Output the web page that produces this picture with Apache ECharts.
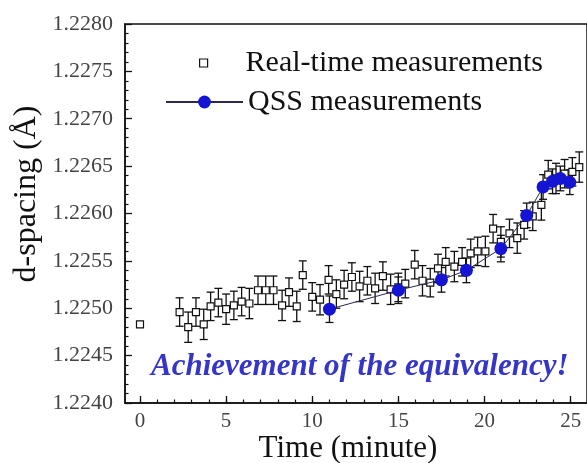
<!DOCTYPE html>
<html>
<head>
<meta charset="utf-8">
<script src="https://cdn.jsdelivr.net/npm/echarts@6/dist/echarts.min.js"></script>
<style>
html, body { margin: 0; padding: 0; background: #fff; }
#main { width: 587px; height: 463px; }
</style>
</head>
<body>
<div id="main"></div>
<script>
// real-time measurements (minute, d-spacing, error)
var rtTime = [0, 2.3, 2.8, 3.25, 3.7, 4.1, 4.55, 5.0, 5.45, 5.9, 6.35, 6.85, 7.3, 7.75, 8.25, 8.65, 9.1, 9.45,
  10.0, 10.45, 10.95, 11.4, 11.85, 12.3, 12.75, 13.2, 13.65, 14.1, 14.55, 15.0, 15.4, 15.95, 16.4, 16.85,
  17.3, 17.75, 18.25, 18.7, 19.2, 19.6, 20.05, 20.5, 20.95, 21.45, 21.9, 22.3, 22.8, 23.3, 23.7, 24.15,
  24.65, 25.1, 25.5];
var rtValue = [1.22483, 1.22496, 1.22480, 1.22496, 1.22483, 1.22502, 1.22506, 1.22499, 1.22503, 1.22507,
  1.22505, 1.22519, 1.22519, 1.22519, 1.22503, 1.22517, 1.22502, 1.22535, 1.22512, 1.22509, 1.22530,
  1.22515, 1.22525, 1.22533, 1.22523, 1.22529, 1.22521, 1.22534, 1.22520, 1.22522, 1.22526, 1.22546,
  1.22529, 1.22527, 1.22542, 1.22549, 1.22544, 1.22549, 1.22558, 1.22560, 1.22560, 1.22584, 1.22570,
  1.22579, 1.22574, 1.22588, 1.22597, 1.22609, 1.22641, 1.22637, 1.22642, 1.22644, 1.22649];
var rtErr = [0, 0.00015, 0.00016, 0.00015, 0.00016, 0.00015, 0.00015, 0.00016, 0.00015, 0.00015,
  0.00016, 0.00015, 0.00015, 0.00015, 0.00016, 0.00015, 0.00016, 0.00015, 0.00015, 0.00016, 0.00015,
  0.00015, 0.00015, 0.00015, 0.00016, 0.00015, 0.00016, 0.00015, 0.00016, 0.00015, 0.00015, 0.00015,
  0.00016, 0.00015, 0.00015, 0.00015, 0.00016, 0.00015, 0.00015, 0.00015, 0.00016, 0.00015, 0.00016,
  0.00015, 0.00016, 0.00015, 0.00015, 0.00016, 0.00015, 0.00016, 0.00015, 0.00015, 0.00016];

// QSS measurements
var qssTime = [11.0, 15.0, 17.5, 18.95, 20.95, 22.45, 23.4, 23.95, 24.4, 24.95];
var qssValue = [1.22499, 1.22519, 1.22530, 1.22540, 1.22563, 1.22598, 1.22628, 1.22634, 1.22637, 1.22633];
var qssErr = [0.00014, 0.00014, 0.00013, 0.00013, 0.00014, 0.00013, 0.00013, 0.00013, 0.00013, 0.00013];

var xMajor = [0, 5, 10, 15, 20, 25];
var xMinor = [0, 1, 2, 3, 4, 5, 6, 7, 8, 9, 10, 11, 12, 13, 14, 15, 16, 17, 18, 19, 20, 21, 22, 23, 24, 25];

var serif = '"Liberation Serif", "DejaVu Serif", serif';

var rtPoints = [], rtBars = [], qssPoints = [], qssBars = [];
for (var i = 0; i < rtTime.length; i++) {
  rtPoints.push([rtTime[i], rtValue[i]]);
  if (rtErr[i] > 0) rtBars.push([rtTime[i], rtValue[i] - rtErr[i], rtValue[i] + rtErr[i]]);
}
for (var j = 0; j < qssTime.length; j++) {
  qssPoints.push([qssTime[j], qssValue[j]]);
  qssBars.push([qssTime[j], qssValue[j] - qssErr[j], qssValue[j] + qssErr[j]]);
}

// error bar with caps
function renderErr(params, api) {
  var t = api.value(0);
  var lo = api.coord([t, api.value(1)]);
  var hi = api.coord([t, api.value(2)]);
  var w = 4;
  var st = { stroke: '#111', lineWidth: 1.3 };
  return {
    type: 'group',
    children: [
      { type: 'line', shape: { x1: lo[0], y1: lo[1], x2: hi[0], y2: hi[1] }, style: st },
      { type: 'line', shape: { x1: lo[0] - w, y1: lo[1], x2: lo[0] + w, y2: lo[1] }, style: st },
      { type: 'line', shape: { x1: hi[0] - w, y1: hi[1], x2: hi[0] + w, y2: hi[1] }, style: st }
    ]
  };
}

var myChart = echarts.init(document.getElementById('main'));
var option = {
  animation: false,
  grid: {
    left: 125, top: 24, bottom: 60, right: -2,
    show: true, borderColor: '#111', borderWidth: 1.5, backgroundColor: 'transparent'
  },
  legend: [{
    data: ['Real-time measurements'],
    orient: 'vertical', left: 199, top: 48, padding: 0,
    itemWidth: 8, itemHeight: 8,
    itemStyle: { color: '#fff', borderColor: '#111', borderWidth: 1.2 },
    textStyle: { fontFamily: serif, fontSize: 30, color: '#111', padding: [0, 0, 0, 33] }
  }, {
    data: ['QSS measurements'],
    orient: 'vertical', left: 165, top: 87, padding: 0,
    itemWidth: 77, itemHeight: 16,
    textStyle: { fontFamily: serif, fontSize: 30, color: '#111' }
  }],
  xAxis: [{
    type: 'value', min: -0.87, max: 25.95,
    axisLine: { onZero: false, lineStyle: { color: '#111', width: 1.5 } },
    axisTick: { inside: true, length: 7, customValues: xMajor, lineStyle: { color: '#111', width: 1.3 } },
    axisLabel: { customValues: xMajor, margin: 8, fontFamily: serif, fontSize: 21, color: '#444' },
    splitLine: { show: false }
  }, {
    type: 'value', min: -0.87, max: 25.95, position: 'bottom',
    axisLine: { show: false },
    axisTick: { inside: true, length: 3.5, customValues: xMinor, lineStyle: { color: '#111', width: 1.2 } },
    axisLabel: { show: false },
    splitLine: { show: false }
  }],
  yAxis: {
    type: 'value', min: 1.224, max: 1.228, interval: 0.0005,
    axisLine: { show: true, onZero: false, lineStyle: { color: '#111', width: 1.5 } },
    axisTick: { inside: true, length: 7, lineStyle: { color: '#111', width: 1.3 } },
    minorTick: { show: true, splitNumber: 5, length: 3.5, lineStyle: { color: '#111', width: 1.2 } },
    axisLabel: {
      margin: 12, fontFamily: serif, fontSize: 22, color: '#444',
      formatter: function (v) { return v.toFixed(4); }
    },
    splitLine: { show: false }
  },
  graphic: [{
    type: 'text', x: 27, y: 194, rotation: Math.PI / 2,
    style: { text: 'd-spacing (Å)', font: '32px ' + serif, fill: '#111', align: 'center', verticalAlign: 'middle' }
  }, {
    type: 'text', x: 348, y: 449,
    style: { text: 'Time (minute)', font: '31px ' + serif, fill: '#111', align: 'center', verticalAlign: 'middle' }
  }, {
    type: 'text', x: 151, y: 367,
    style: { text: 'Achievement of the equivalency!', font: 'italic bold 31px ' + serif, fill: '#3535c8', align: 'left', verticalAlign: 'middle' }
  }],
  series: [{
    name: 'rt-err', type: 'custom', renderItem: renderErr,
    encode: { x: 0, y: [1, 2] }, data: rtBars, z: 2
  }, {
    name: 'qss-err', type: 'custom', renderItem: renderErr,
    encode: { x: 0, y: [1, 2] }, data: qssBars, z: 2
  }, {
    name: 'Real-time measurements', type: 'scatter',
    symbol: 'rect', symbolSize: 7,
    itemStyle: { color: '#fff', borderColor: '#111', borderWidth: 1.2, opacity: 1 },
    data: rtPoints, z: 3
  }, {
    name: 'QSS measurements', type: 'line',
    symbol: 'circle', symbolSize: 13, showSymbol: true,
    itemStyle: { color: '#1414d2' },
    lineStyle: { color: '#2a2a50', width: 1 },
    data: qssPoints, z: 4
  }]
};
myChart.setOption(option);
</script>
</body>
</html>
